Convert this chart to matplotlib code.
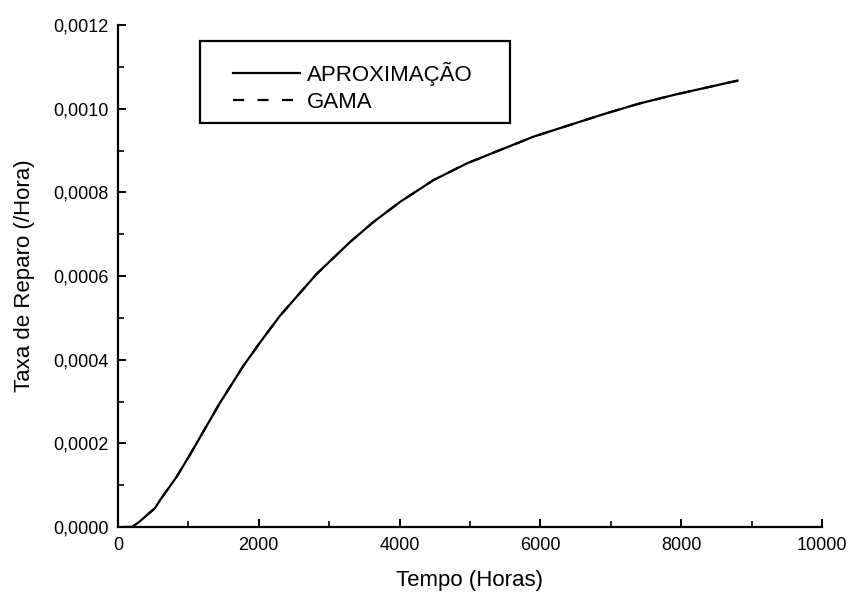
import matplotlib
matplotlib.use("Agg")
import matplotlib.pyplot as plt
from matplotlib.ticker import MultipleLocator, FuncFormatter
from matplotlib.patches import Rectangle

plt.rcParams['font.family'] = ['Liberation Sans', 'DejaVu Sans']

# tempo (horas) e taxa de reparo
horas = [100, 200, 300, 525, 600, 833, 1023, 1449, 1780, 2017, 2301, 2822,
         3295, 3627, 4006, 4479, 4953, 5426, 5900, 6400, 6900, 7400, 7900, 8400, 8800]
aprox = [0.0, 0.0, 0.000012, 0.000045, 0.000065, 0.00012, 0.000173, 0.000297,
         0.000385, 0.000441, 0.000505, 0.000605, 0.000681, 0.000729,
         0.000777, 0.000829, 0.000869, 0.000901, 0.000933, 0.000960, 0.000987,
         0.001012, 0.001033, 0.001052, 0.001067]
# a curva gama fica sobreposta a aproximacao
gama = [0.0, 0.0, 0.000012, 0.000045, 0.000065, 0.00012, 0.000173, 0.000297,
        0.000385, 0.000441, 0.000505, 0.000605, 0.000681, 0.000729,
        0.000777, 0.000829, 0.000869, 0.000901, 0.000933, 0.000960, 0.000987,
        0.001012, 0.001033, 0.001052, 0.001067]

fig = plt.figure(figsize=(8.5, 5.94), dpi=100)
ax = fig.add_axes([118/850, 67/594, 704/850, 502/594])

ax.plot(horas, aprox, color='black', lw=1.6, label=u"APROXIMAÇÃO")
ax.plot(horas, gama, color='black', lw=1.6, ls=(0, (5, 6)), label=u"GAMA")

ax.set_xlim(0, 10000)
ax.set_ylim(0, 0.0012)
ax.xaxis.set_major_locator(MultipleLocator(2000))
ax.xaxis.set_minor_locator(MultipleLocator(1000))
ax.yaxis.set_major_locator(MultipleLocator(0.0002))
ax.yaxis.set_minor_locator(MultipleLocator(0.0001))
ax.yaxis.set_major_formatter(FuncFormatter(lambda v, p: ("%.4f" % v).replace('.', ',')))
ax.xaxis.set_major_formatter(FuncFormatter(lambda v, p: "%d" % v))

for s in ['top', 'right']:
    ax.spines[s].set_visible(False)
for s in ['left', 'bottom']:
    ax.spines[s].set_linewidth(1.6)
ax.tick_params(which='major', direction='in', length=6, width=1.4, labelsize=13, pad=7)
ax.tick_params(which='minor', direction='in', length=4, width=1.2)

ax.set_xlabel("Tempo (Horas)", fontsize=16, labelpad=12)
ax.set_ylabel("Taxa de Reparo (/Hora)", fontsize=16, labelpad=13)

# caixa da legenda desenhada a parte
ax.add_patch(Rectangle((0.1165, 0.8048), 0.4403, 0.1632, transform=ax.transAxes,
                       fill=False, edgecolor='black', lw=1.6, clip_on=False, zorder=5))
leg = ax.legend(loc='upper left', bbox_to_anchor=(0.1637, 0.926), fontsize=16,
                frameon=False, handlelength=3.0, handletextpad=0.3, borderpad=0,
                labelspacing=0.25, borderaxespad=0)

plt.savefig("out.png", dpi=100)
